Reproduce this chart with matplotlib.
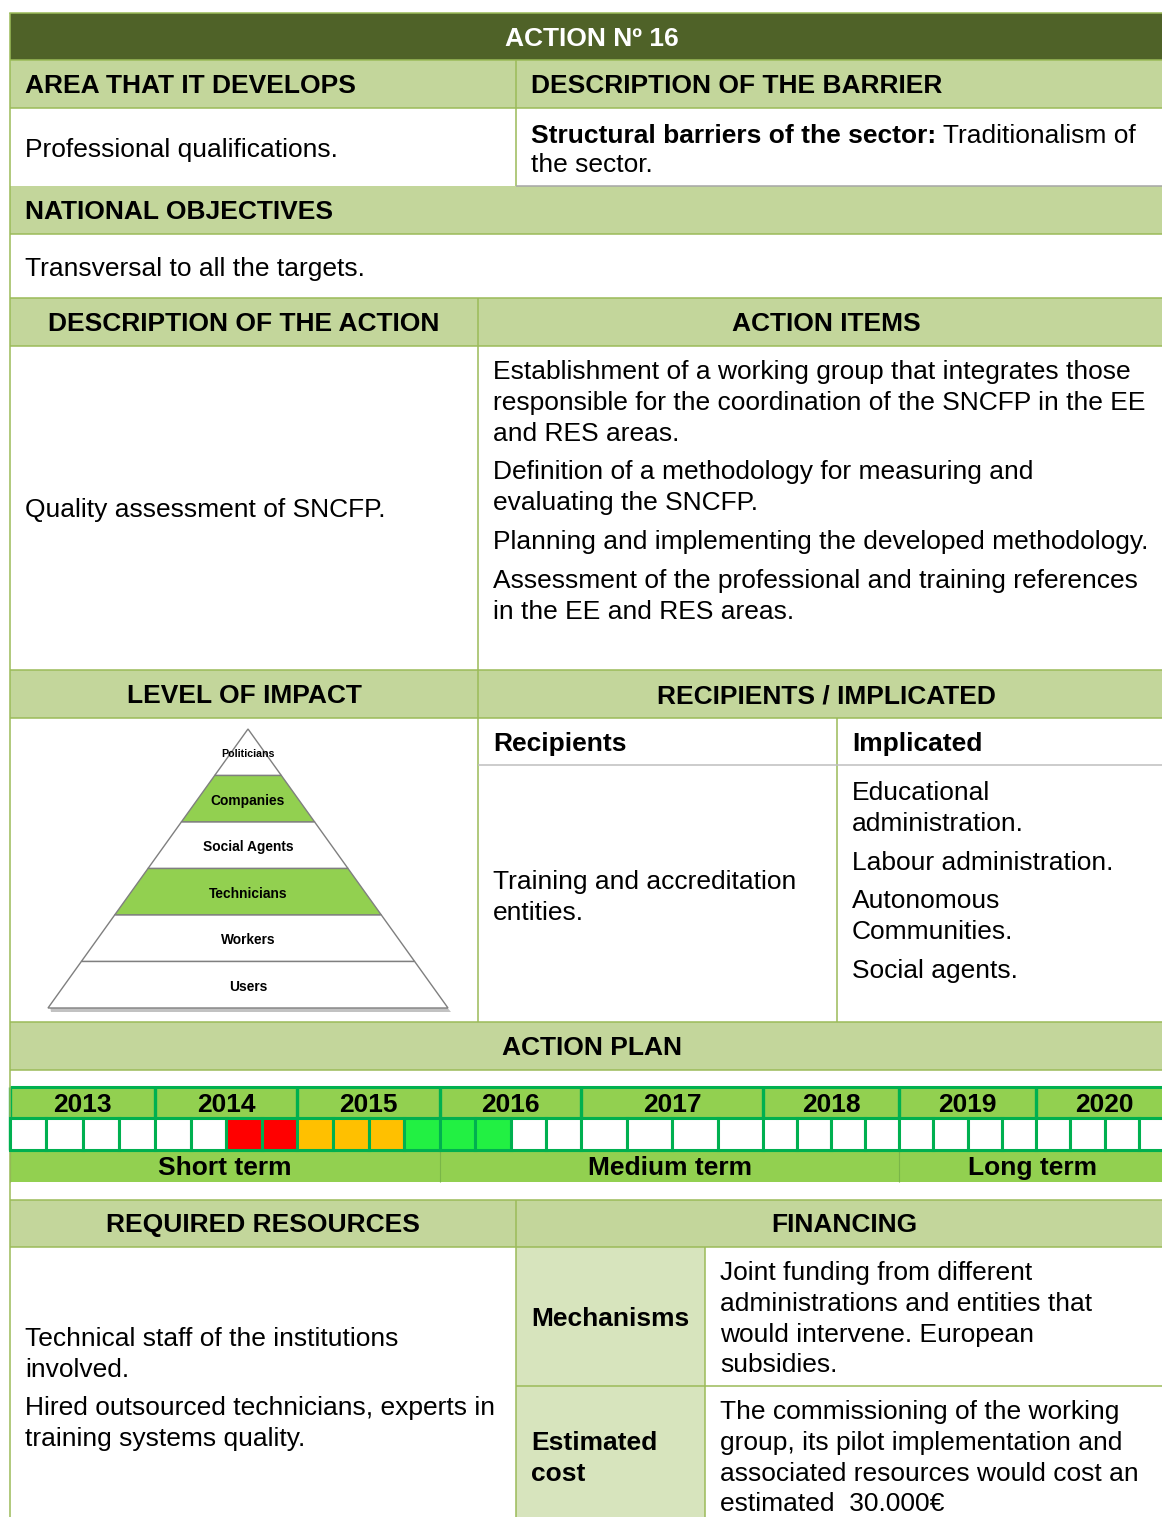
import matplotlib
matplotlib.use("Agg")
import matplotlib.pyplot as plt
from matplotlib.patches import Rectangle, Polygon

plt.rcParams['font.family'] = ['Liberation Sans', 'DejaVu Sans']

# ---- content ----
title = "ACTION Nº 16"
area = "Professional qualifications."
barrier_bold = "Structural barriers of the sector:"
barrier_rest = ["Traditionalism of", "the sector."]
objectives = "Transversal to all the targets."
action_desc = "Quality assessment of SNCFP."
action_items = [
    ["Establishment of a working group that integrates those",
     "responsible for the coordination of the SNCFP in the EE",
     "and RES areas."],
    ["Definition of a methodology for measuring and",
     "evaluating the SNCFP."],
    ["Planning and implementing the developed methodology."],
    ["Assessment of the professional and training references",
     "in the EE and RES areas."],
]
pyramid_levels = ["Politicians", "Companies", "Social Agents", "Technicians", "Workers", "Users"]
pyramid_marked = [False, True, False, True, False, False]
recipients = ["Training and accreditation", "entities."]
implicated = [["Educational", "administration."],
              ["Labour administration."],
              ["Autonomous", "Communities."],
              ["Social agents."]]
years = [2013, 2014, 2015, 2016, 2017, 2018, 2019, 2020]
# quarter status: 0 none, 1 red, 2 orange, 3 green
quarters = [0, 0, 0, 0,  0, 0, 1, 1,  2, 2, 2, 3,  3, 3, 0, 0,
            0, 0, 0, 0,  0, 0, 0, 0,  0, 0, 0, 0,  0, 0, 0, 0]
terms = ["Short term", "Medium term", "Long term"]
term_years = [(2013, 2015), (2016, 2018), (2019, 2020)]
resources = [["Technical staff of the institutions", "involved."],
             ["Hired outsourced technicians, experts in", "training systems quality."]]
mechanisms = ["Joint funding from different", "administrations and entities that",
              "would intervene. European", "subsidies."]
cost = ["The commissioning of the working", "group, its pilot implementation and",
        "associated resources would cost an", "estimated  30.000€"]

# ---- style ----
DARK = "#4F6228"
HEAD = "#C3D69B"
SUB = "#D7E4BD"
LINE = "#9BBB59"
TL = "#92D050"
GRID = "#00B050"
status_col = {0: "white", 1: "#FF0000", 2: "#FFC000", 3: "#22F043"}
FS = 19
DY = 2  # small downward nudge for text

W, H = 1162, 1517
fig = plt.figure(figsize=(W / 100, H / 100), dpi=100)
ax = fig.add_axes([0, 0, 1, 1])
ax.set_xlim(0, W)
ax.set_ylim(H, 0)
ax.axis("off")

L, R = 10, W + 2


def box(x0, y0, x1, y1, fc, ec="none", lw=0, z=1):
    ax.add_patch(Rectangle((x0, y0), x1 - x0, y1 - y0, fc=fc, ec=ec, lw=lw, zorder=z))


def hline(y, x0, x1, c=LINE, lw=1.1):
    ax.plot([x0, x1], [y, y], color=c, lw=lw, zorder=3, solid_capstyle="butt")


def vline(x, y0, y1, c=LINE, lw=1.1):
    ax.plot([x, x], [y0, y1], color=c, lw=lw, zorder=3, solid_capstyle="butt")


def txt(x, y, s, size=FS, **kw):
    kw.setdefault("va", "center")
    kw.setdefault("zorder", 5)
    return ax.text(x, y + DY, s, fontsize=size, **kw)


def lines(x, y, rows, step=30.8, **kw):
    for i, s in enumerate(rows):
        txt(x, y + i * step, s, **kw)


# title
box(L, 13, R, 60, DARK)
txt(592, 37, title, color="white", weight="bold", ha="center")

# area / barrier
box(L, 60, R, 108, HEAD)
txt(25, 84, "AREA THAT IT DEVELOPS", weight="bold")
txt(531, 84, "DESCRIPTION OF THE BARRIER", weight="bold")
txt(25, 148, area)
tb = txt(531, 146, barrier_bold, weight="bold", va="bottom")
ax.annotate(" " + barrier_rest[0], xy=(1, 0), xycoords=tb, fontsize=FS, va="bottom", zorder=5)
txt(531, 163, barrier_rest[1])
hline(60, L, R); hline(108, L, R)
vline(516, 60, 186)
hline(186, 516, R, c="#A6A6A6")

# national objectives
box(L, 186, R, 234, HEAD)
txt(25, 210, "NATIONAL OBJECTIVES", weight="bold")
txt(25, 267, objectives)
hline(234, L, R)

# description of action / items
box(L, 298, R, 346, HEAD)
txt(244, 322, "DESCRIPTION OF THE ACTION", weight="bold", ha="center")
txt(826, 322, "ACTION ITEMS", weight="bold", ha="center")
hline(298, L, R); hline(346, L, R)
vline(478, 298, 1022)
txt(25, 508, action_desc)
y = 370
for item in action_items:
    lines(493, y, item)
    y += len(item) * 30.8 + 8

# level of impact / recipients
box(L, 670, R, 718, HEAD)
txt(244, 694, "LEVEL OF IMPACT", weight="bold", ha="center")
txt(826, 694, "RECIPIENTS / IMPLICATED", weight="bold", ha="center")
hline(670, L, R); hline(718, L, R)

# pyramid
apex_x, apex_y, base_y, half_base = 248, 729, 1008, 200
n = len(pyramid_levels)
band = (base_y - apex_y) / n
ax.add_patch(Polygon([(apex_x - half_base + 3, base_y + 4), (apex_x + half_base + 3, base_y + 4),
                      (apex_x + half_base - 2, base_y - 2), (apex_x - half_base + 2, base_y - 2)],
                     closed=True, fc="#9A9A9A", ec="none", alpha=0.6, zorder=3))
for i, (name, mark) in enumerate(zip(pyramid_levels, pyramid_marked)):
    y0 = apex_y + i * band
    y1 = y0 + band
    w0 = half_base * (y0 - apex_y) / (base_y - apex_y)
    w1 = half_base * (y1 - apex_y) / (base_y - apex_y)
    pts = [(apex_x - w0, y0), (apex_x + w0, y0), (apex_x + w1, y1), (apex_x - w1, y1)]
    ax.add_patch(Polygon(pts, closed=True, fc=TL if mark else "white", ec="#7F7F7F", lw=1.0, zorder=4))
    txt(apex_x, y0 + band / 2, name, size=7.7 if i == 0 else 9.9, weight="bold",
        ha="center", zorder=6)

# recipients / implicated
vline(837, 718, 1022)
hline(765, 478, R, c="#BFBFBF")
txt(493, 742, "Recipients", weight="bold")
txt(852, 742, "Implicated", weight="bold")
lines(493, 880, recipients)
y = 791
for item in implicated:
    lines(852, y, item)
    y += len(item) * 30.8 + 8

# action plan
box(L, 1022, R, 1070, HEAD)
txt(592, 1046, "ACTION PLAN", weight="bold", ha="center")
hline(1022, L, R); hline(1070, L, R)

year_edges = [10, 155, 297, 440, 581, 763, 899, 1036, 1173]
yr_top, yr_bot, q_bot, t_bot = 1087, 1118, 1150, 1182
box(L, yr_top, R, yr_bot, TL, z=2)
box(L, q_bot, R, t_bot, TL, z=2)
for k, yr in enumerate(years):
    x0, x1 = year_edges[k], year_edges[k + 1]
    txt((x0 + x1) / 2, (yr_top + yr_bot) / 2, str(yr), weight="bold", ha="center", zorder=6)
    qw = (x1 - x0) / 4
    for q in range(4):
        st = quarters[k * 4 + q]
        box(x0 + q * qw, yr_bot, x0 + (q + 1) * qw, q_bot, status_col[st], GRID, 2.2, z=4)
    vline(x0, yr_top, q_bot, c=GRID, lw=2.4)
hline(yr_top, L, R, c=GRID, lw=2.2)
hline(yr_bot, L, R, c=GRID, lw=2.2)
hline(q_bot, L, R, c=GRID, lw=2.2)
for name, (a, b) in zip(terms, term_years):
    x0 = year_edges[years.index(a)]
    x1 = min(year_edges[years.index(b) + 1], W + 5)
    txt((x0 + x1) / 2, (q_bot + t_bot) / 2, name, weight="bold", ha="center", zorder=6)
    vline(x0, q_bot, t_bot, c="#7AB648", lw=0.8)

# resources / financing
box(L, 1200, R, 1247, HEAD)
txt(263, 1223, "REQUIRED RESOURCES", weight="bold", ha="center")
txt(844, 1223, "FINANCING", weight="bold", ha="center")
hline(1200, L, R); hline(1247, L, R)
box(516, 1247, 705, H + 2, SUB)
vline(516, 1200, H + 2); vline(705, 1247, H + 2)
hline(1386, 516, R)
txt(531, 1317, "Mechanisms", weight="bold")
lines(531, 1441, ["Estimated", "cost"], weight="bold")
lines(720, 1271, mechanisms)
lines(720, 1410, cost)
lines(25, 1337, resources[0])
lines(25, 1406, resources[1])

# left border
vline(L, 13, H + 2)
ax.plot([L, R], [13, 13], color=LINE, lw=1.1, zorder=3)

fig.savefig("out.png", dpi=100)
